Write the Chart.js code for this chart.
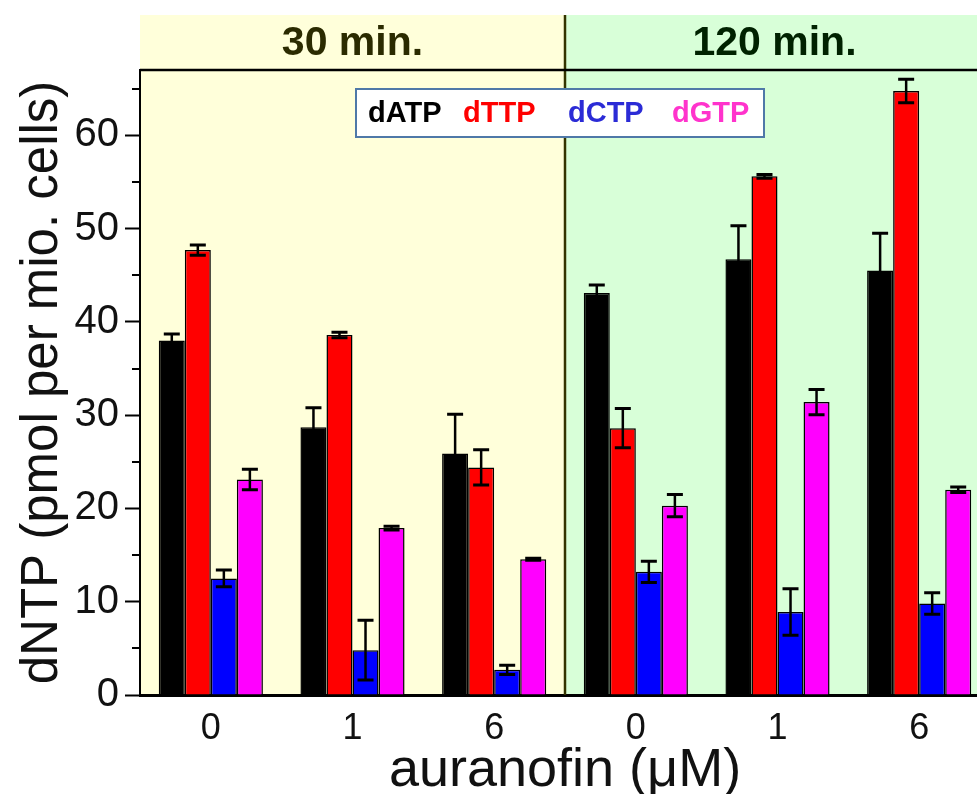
<!DOCTYPE html>
<html>
<head>
<meta charset="utf-8">
<style>
  html, body { margin: 0; padding: 0; background: #fff; overflow: hidden; }
</style>
<script src="https://cdn.jsdelivr.net/npm/chart.js@4.4.1/dist/chart.umd.min.js"></script>
</head>
<body>
<canvas id="chart" width="992" height="794"></canvas>
<script>
// auranofin dose per group (first three: 30 min, last three: 120 min)
const doses = ['0', '1', '6', '0', '1', '6'];
const periods = ['30 min.', '120 min.'];

const dATP = [38.0, 28.7, 25.9, 43.1, 46.7, 45.5];
const dATPErr = [0.7, 2.1, 4.2, 0.85, 3.6, 4.0];
const dTTP = [47.7, 38.6, 24.4, 28.6, 55.6, 64.75];
const dTTPErr = [0.55, 0.3, 1.9, 2.1, 0.2, 1.25];
const dCTP = [12.5, 4.8, 2.7, 13.2, 8.9, 9.8];
const dCTPErr = [0.9, 3.2, 0.5, 1.15, 2.5, 1.15];
const dGTP = [23.1, 17.9, 14.55, 20.3, 31.4, 22.0];
const dGTPErr = [1.1, 0.2, 0.1, 1.2, 1.35, 0.3];

const yTicks = [0, 10, 20, 30, 40, 50, 60];
const yMinor = [5, 15, 25, 35, 45, 55, 65];

const FONT = "'Liberation Sans', Arial, sans-serif";
Chart.defaults.font.family = FONT;

const bandColors = ['rgb(255,255,218)', 'rgb(216,255,216)'];
const bandText = ['#2b2b00', '#002200'];

const backgroundPlugin = {
  id: 'bands',
  beforeDraw(chart) {
    const { ctx, chartArea: a, scales: { x } } = chart;
    const mid = x.getPixelForValue(2.5);
    ctx.save();
    ctx.fillStyle = bandColors[0];
    ctx.fillRect(a.left, 15, mid - a.left, a.bottom - 15);
    ctx.fillStyle = bandColors[1];
    ctx.fillRect(mid, 15, a.right - mid, a.bottom - 15);
    ctx.restore();
  }
};

const errorBarPlugin = {
  id: 'errorBars',
  afterDatasetsDraw(chart) {
    const { ctx, scales: { y } } = chart;
    ctx.save();
    ctx.strokeStyle = '#000';
    chart.data.datasets.forEach((ds, i) => {
      const meta = chart.getDatasetMeta(i);
      meta.data.forEach((bar, j) => {
        const v = ds.data[j], e = ds.err[j];
        const yt = y.getPixelForValue(v + e);
        const yb = y.getPixelForValue(v - e);
        ctx.lineWidth = 2.5;
        ctx.beginPath();
        ctx.moveTo(bar.x, yt);
        ctx.lineTo(bar.x, yb);
        ctx.stroke();
        ctx.lineWidth = 3;
        ctx.beginPath();
        ctx.moveTo(bar.x - 8, yt);
        ctx.lineTo(bar.x + 8, yt);
        ctx.moveTo(bar.x - 8, yb);
        ctx.lineTo(bar.x + 8, yb);
        ctx.stroke();
      });
    });
    ctx.restore();
  }
};

const overlayPlugin = {
  id: 'overlay',
  afterDraw(chart) {
    const { ctx, chartArea: a, scales: { x, y } } = chart;
    const mid = x.getPixelForValue(2.5);
    ctx.save();

    // minor y ticks
    ctx.strokeStyle = '#000';
    ctx.lineWidth = 2;
    yMinor.forEach(v => {
      const py = Math.round(y.getPixelForValue(v));
      ctx.beginPath();
      ctx.moveTo(a.left - 8, py);
      ctx.lineTo(a.left, py);
      ctx.stroke();
    });

    // divider between the two time points
    ctx.strokeStyle = '#333300';
    ctx.lineWidth = 2.5;
    ctx.beginPath();
    ctx.moveTo(mid, 15);
    ctx.lineTo(mid, a.bottom);
    ctx.stroke();

    // top frame line
    ctx.strokeStyle = '#000';
    ctx.lineWidth = 2.5;
    ctx.beginPath();
    ctx.moveTo(a.left, a.top);
    ctx.lineTo(a.right, a.top);
    ctx.stroke();

    // header texts
    ctx.font = 'bold 41px ' + FONT;
    ctx.textAlign = 'center';
    ctx.textBaseline = 'middle';
    ctx.fillStyle = bandText[0];
    ctx.fillText(periods[0], (a.left + mid) / 2, 44);
    ctx.fillStyle = bandText[1];
    ctx.fillText(periods[1], (mid + a.right) / 2 - 3, 44);

    // legend box
    ctx.fillStyle = '#fff';
    ctx.fillRect(356, 89, 408, 48);
    ctx.strokeStyle = '#4f79a8';
    ctx.lineWidth = 2;
    ctx.strokeRect(356, 89, 408, 48);
    ctx.font = 'bold 29px ' + FONT;
    ctx.textAlign = 'left';
    ctx.textBaseline = 'alphabetic';
    const lx = [368, 463, 568, 672];
    chart.data.datasets.forEach((ds, i) => {
      ctx.fillStyle = ds.legendColor;
      ctx.fillText(ds.label, lx[i], 122);
    });
    ctx.restore();
  }
};

const barStyle = { borderColor: '#000', borderWidth: 1.5, categoryPercentage: 0.735, barPercentage: 1.0 };

new Chart(document.getElementById('chart'), {
  type: 'bar',
  data: {
    labels: doses,
    datasets: [
      { label: 'dATP', data: dATP, err: dATPErr, backgroundColor: '#000000', legendColor: '#000000', ...barStyle },
      { label: 'dTTP', data: dTTP, err: dTTPErr, backgroundColor: '#ff0000', legendColor: '#ff0000', ...barStyle },
      { label: 'dCTP', data: dCTP, err: dCTPErr, backgroundColor: '#0000ff', legendColor: '#2b2bd6', ...barStyle },
      { label: 'dGTP', data: dGTP, err: dGTPErr, backgroundColor: '#ff00ff', legendColor: '#ff33cc', ...barStyle }
    ]
  },
  options: {
    responsive: false,
    animation: false,
    layout: { padding: { top: 70, right: 2, left: 0, bottom: 0 } },
    plugins: { legend: { display: false }, tooltip: { enabled: false } },
    scales: {
      x: {
        grid: { display: false, drawTicks: false },
        border: { display: true, color: '#000', width: 3 },
        ticks: { color: '#111', font: { size: 36 }, padding: 12 },
        title: { display: true, text: 'auranofin (μM)', color: '#111', font: { size: 54, lineHeight: 1 }, padding: { top: 0, bottom: -4 } },
        afterFit(scale) { scale.height = 99; }
      },
      y: {
        min: 0,
        max: 67,
        grid: { drawOnChartArea: false, drawTicks: true, tickLength: 15, tickColor: '#000', tickWidth: 2 },
        border: { display: true, color: '#000', width: 2 },
        ticks: { stepSize: 10, includeBounds: false, color: '#111', font: { size: 40 }, padding: 6,
          callback: v => yTicks.includes(v) ? String(v) : '' },
        title: { display: true, text: 'dNTP (pmol per mio. cells)', color: '#111', font: { size: 51, lineHeight: 1 }, padding: { top: 17, bottom: 0 } },
        afterFit(scale) { scale.width = 140; }
      }
    }
  },
  plugins: [backgroundPlugin, errorBarPlugin, overlayPlugin]
});
</script>
</body>
</html>
